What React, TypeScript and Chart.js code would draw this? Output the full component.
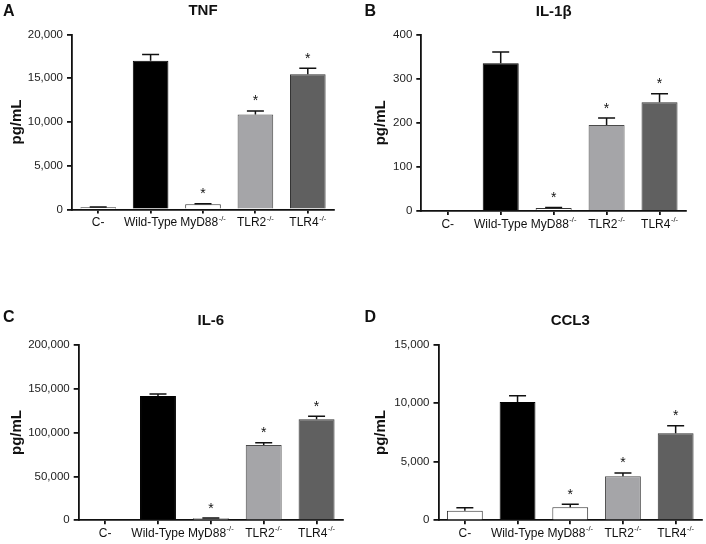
import React, { useEffect, useRef } from 'react';
import { Chart, registerables } from 'chart.js';
Chart.register(...registerables);

// ---- data ----
const categories = ['C-', 'Wild-Type', 'MyD88', 'TLR2', 'TLR4'];
const categorySuperscripts = ['', '', '-/-', '-/-', '-/-'];
const significant = [false, false, true, true, true];
const barFill = ['#ffffff', '#000000', '#ffffff', '#a5a5a8', '#606060'];
const barBorder = ['#333333', '#000000', '#333333', '#4a4a4a', '#333333'];

const tnfMeans = [250, 17000, 600, 10850, 15450];
const tnfErrors = [50, 720, 60, 420, 700];
const il1bMeans = [0, 335, 7, 195, 247];
const il1bErrors = [0, 26, 1, 16, 19];
const il6Means = [0, 141500, 2300, 85800, 115000];
const il6Errors = [0, 2300, 300, 2500, 3500];
const ccl3Means = [820, 10100, 1120, 3760, 7430];
const ccl3Errors = [260, 540, 260, 290, 650];

const panelLetters = ['A', 'B', 'C', 'D'];
const panelTitles = ['TNF', 'IL-1β', 'IL-6', 'CCL3'];
const yMaxes = [20000, 400, 200000, 15000];
const ySteps = [5000, 100, 50000, 5000];
const yAxisTitle = 'pg/mL';

const FONT = '"Liberation Sans", Arial, Helvetica, sans-serif';
const CW = 353;
const CH = 272;

// layout (positions only)
const layouts = [
  { left: 0, top: 0, area: { l: 72, r: 334, t: 34.5, b: 209.5 }, yTitleX: 17, titleY: 11, letterX: 3, letterY: 12 },
  { left: 353, top: 0, area: { l: 68.3, r: 333, t: 34.7, b: 211 }, yTitleX: 28, titleY: 12, letterX: 11.5, letterY: 12 },
  { left: 0, top: 272, area: { l: 78.7, r: 343, t: 72.7, b: 248.3 }, yTitleX: 17, titleY: 49, letterX: 3, letterY: 46 },
  { left: 353, top: 272, area: { l: 85.5, r: 349, t: 72.7, b: 248.3 }, yTitleX: 28, titleY: 49, letterX: 11.5, letterY: 46 },
];

const meansList = [tnfMeans, il1bMeans, il6Means, ccl3Means];
const errorsList = [tnfErrors, il1bErrors, il6Errors, ccl3Errors];

const errorBarPlugin = {
  id: 'errorBars',
  afterDatasetsDraw(chart: any, _args: any, opts: any) {
    const { ctx } = chart;
    const meta = chart.getDatasetMeta(0);
    const yScale = chart.scales.y;
    const data = chart.data.datasets[0].data as number[];
    meta.data.forEach((bar: any, i: number) => {
      const err = opts.errors[i];
      const top = yScale.getPixelForValue(data[i] + err);
      const x = bar.x;
      ctx.save();
      ctx.strokeStyle = '#111';
      ctx.lineWidth = 1.5;
      if (err > 0) {
        ctx.beginPath();
        ctx.moveTo(x, bar.y);
        ctx.lineTo(x, top);
        ctx.moveTo(x - 8.5, top);
        ctx.lineTo(x + 8.5, top);
        ctx.stroke();
      }
      if (opts.sig[i]) {
        ctx.fillStyle = '#111';
        ctx.font = `14px ${FONT}`;
        ctx.textAlign = 'center';
        ctx.textBaseline = 'alphabetic';
        ctx.fillText('*', x, top - 5.5);
      }
      ctx.restore();
    });
  },
};

const textPlugin = {
  id: 'panelText',
  afterDraw(chart: any, _args: any, opts: any) {
    const { ctx, chartArea } = chart;
    const xScale = chart.scales.x;
    ctx.save();
    ctx.fillStyle = '#111';
    // category labels with superscripts
    const y = chartArea.bottom + 13.5;
    categories.forEach((cat: string, i: number) => {
      const cx = xScale.getPixelForValue(i);
      const sup = categorySuperscripts[i];
      ctx.font = `12px ${FONT}`;
      const wb = ctx.measureText(cat).width;
      ctx.font = `7.5px ${FONT}`;
      const ws = sup ? ctx.measureText(sup).width + 0.5 : 0;
      const start = cx - (wb + ws) / 2;
      ctx.textAlign = 'left';
      ctx.textBaseline = 'middle';
      ctx.font = `12px ${FONT}`;
      ctx.fillText(cat, start, y);
      if (sup) {
        ctx.font = `7.5px ${FONT}`;
        ctx.fillText(sup, start + wb + 0.5, y - 4.5);
      }
    });
    // title
    ctx.font = `bold 15px ${FONT}`;
    ctx.textAlign = 'center';
    ctx.textBaseline = 'middle';
    ctx.fillText(opts.title, (chartArea.left + chartArea.right) / 2, opts.titleY);
    // panel letter
    ctx.font = `bold 16px ${FONT}`;
    ctx.textAlign = 'left';
    ctx.fillText(opts.letter, opts.letterX, opts.letterY);
    ctx.restore();
  },
};

function Panel({ idx }: { idx: number }) {
  const ref = useRef<HTMLCanvasElement | null>(null);
  useEffect(() => {
    const L = layouts[idx];
    const a = L.area;
    const chart = new Chart(ref.current as HTMLCanvasElement, {
      type: 'bar',
      data: {
        labels: categories,
        datasets: [
          {
            data: meansList[idx],
            backgroundColor: barFill,
            borderColor: barBorder,
            borderWidth: 1,
            barPercentage: 0.68,
            categoryPercentage: 1,
          },
        ],
      },
      plugins: [errorBarPlugin, textPlugin],
      options: {
        responsive: false,
        animation: false,
        layout: { padding: { left: 0, top: a.t, right: CW - a.r, bottom: 0 } },
        plugins: {
          legend: { display: false },
          tooltip: { enabled: false },
          title: { display: false },
          errorBars: { errors: errorsList[idx], sig: significant },
          panelText: {
            title: panelTitles[idx],
            titleY: L.titleY,
            letter: panelLetters[idx],
            letterX: L.letterX,
            letterY: L.letterY,
          },
        } as any,
        scales: {
          x: {
            offset: true,
            grid: {
              display: true,
              drawOnChartArea: false,
              drawTicks: true,
              tickLength: 4,
              offset: false,
              color: '#111',
              lineWidth: 1.8,
            },
            border: { display: true, color: '#111', width: 1.8 },
            ticks: { display: false },
            afterFit: (s: any) => {
              s.height = CH - a.b;
            },
          },
          y: {
            min: 0,
            max: yMaxes[idx],
            ticks: {
              stepSize: ySteps[idx],
              padding: 4,
              color: '#222',
              font: { family: FONT, size: 11.5 },
              callback: (v: any) => Number(v).toLocaleString('en-US'),
            },
            grid: {
              display: true,
              drawOnChartArea: false,
              drawTicks: true,
              tickLength: 5,
              color: '#111',
              lineWidth: 1.8,
            },
            border: { display: true, color: '#111', width: 1.8 },
            title: {
              display: true,
              text: yAxisTitle,
              color: '#111',
              font: { family: FONT, size: 15, weight: 'bold' },
              padding: { top: L.yTitleX - 9, bottom: 0 },
            },
            afterFit: (s: any) => {
              s.width = a.l;
            },
          },
        },
      },
    } as any);
    return () => chart.destroy();
  }, [idx]);
  const L = layouts[idx];
  return (
    <canvas
      ref={ref}
      width={CW}
      height={CH}
      style={{ position: 'absolute', left: L.left, top: L.top, width: CW, height: CH }}
    />
  );
}

export default function App() {
  return (
    <div style={{ position: 'absolute', left: 0, top: 0, width: 706, height: 544, background: '#fff' }}>
      {[0, 1, 2, 3].map((i) => (
        <Panel key={i} idx={i} />
      ))}
    </div>
  );
}
